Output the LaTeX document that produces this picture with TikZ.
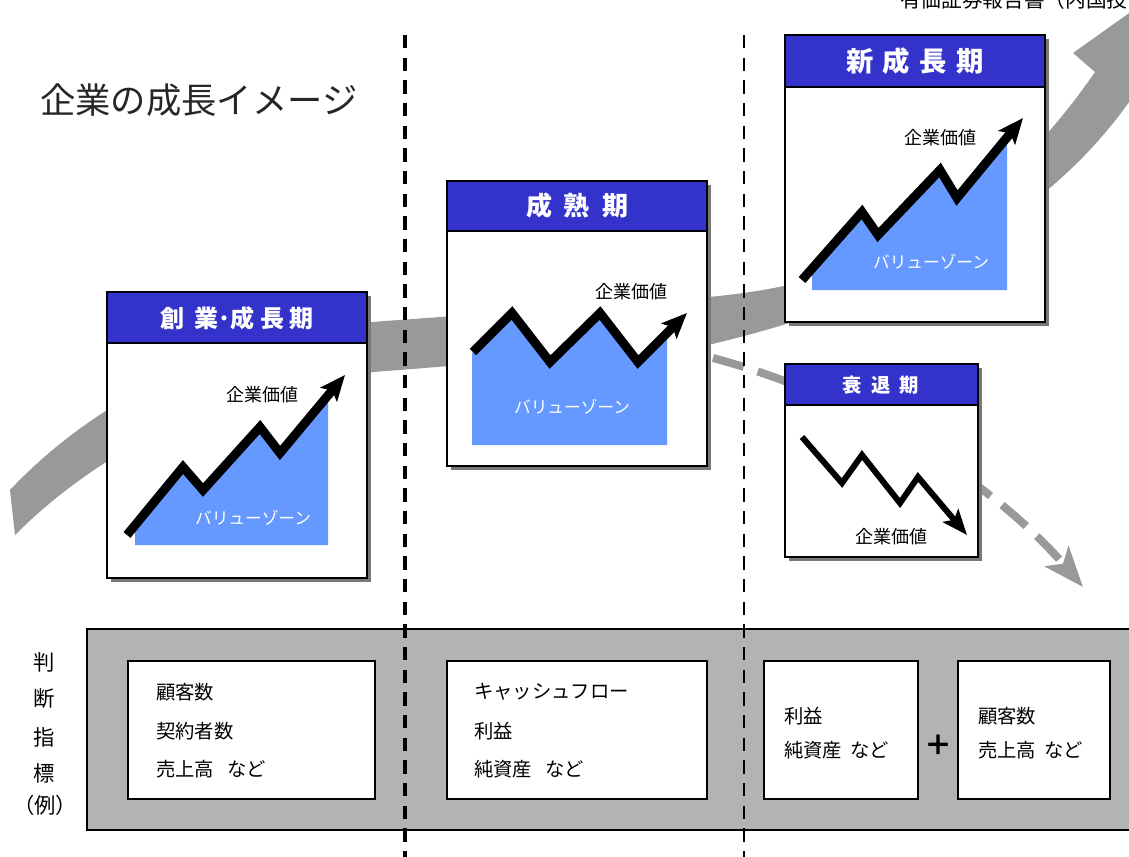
\documentclass[tikz,border=0pt]{standalone}
\usepackage{fontspec}
\usepackage{tikz}
\usetikzlibrary{arrows.meta}
\setmainfont{Noto Sans CJK JP}

\definecolor{headblue}{RGB}{51,51,204}
\definecolor{zoneblue}{RGB}{102,153,255}
\definecolor{bandgray}{RGB}{153,153,153}
\definecolor{panelgray}{RGB}{179,179,179}
\definecolor{shadegray}{RGB}{120,120,120}

\tikzset{
  stagebox/.style={draw=black,line width=1.3pt,fill=white},
  stagehead/.style={draw=black,line width=1.3pt,fill=headblue},
  stageshade/.style={fill=shadegray},
  headtext/.style={text=white,inner sep=0.75pt},
  valueline/.style={line width=6.75pt,-{Stealth[length=19pt,width=16pt,inset=4pt]}},
  zonefill/.style={fill=zoneblue},
  valuetext/.style={font=\fontsize{13.5}{15}\selectfont,inner sep=0.75pt},
  zonetext/.style={text=white,font=\fontsize{12.5}{14}\selectfont,inner sep=0.75pt},
  panelbox/.style={draw=black,line width=1pt,fill=white},
  paneltext/.style={font=\fontsize{14.5}{16}\selectfont,anchor=west,inner sep=0.75pt},
  sidetext/.style={font=\fontsize{16}{18}\selectfont,inner sep=0.75pt}
}

\begin{document}
\begin{tikzpicture}[x=0.75pt,y=0.75pt,yscale=-1,xscale=1]
    \useasboundingbox (0,0) rectangle (1129,857);
    %Shape: Growth band [id:band]
    \fill [bandgray] (10,490) .. controls (90,405) and (220,330) .. (400,320) -- (708,297) .. controls (880,282) and (1000,210) .. (1095,72) -- (1073,53) -- (1163,-11) -- (1158,109) -- (1136,92) .. controls (1050,220) and (900,300) .. (708,345) -- (400,370) .. controls (230,380) and (100,450) .. (15,535) -- cycle ;
    %Curve Lines [id:decline]
    \draw [bandgray, line width=6pt, dash pattern=on 24pt off 11pt, -{Stealth[length=30pt,width=23pt,inset=7pt]}] (713,358) .. controls (870,400) and (1000,490) .. (1083,587) ;

    % Text Node
    \node [anchor=base west, inner sep=0pt, font=\fontsize{15.5}{17}\selectfont] (source) at (900,7) {有価証券報告書（内国投};
    % Text Node
    \node [anchor=west, inner sep=0pt, text=black!85, font=\fontsize{26.5}{28}\selectfont] (title) at (40,100) {企業の成長イメージ};

    %Shape: Rectangle [id:shadeA]
    \fill [stageshade] (111,296) rectangle (371,582) ;
    \draw [stagebox] (107,292) rectangle (367,578) ;
    \draw [stagehead] (107,292) rectangle (367,343) ;
    \fill [zonefill] (135,545) -- (135,525) -- (183,467) -- (203,490) -- (260,427) -- (280,453) -- (328,395) -- (328,545) -- cycle ;
    \draw [valueline] (127,535) -- (183,467) -- (203,490) -- (260,427) -- (280,453) -- (345,375) ;
    % Text Node
    \node [headtext, font=\bfseries\fontsize{18}{20}\selectfont] (headA) at (237,318) {創\hspace{8pt}業･成\hspace{4pt}長\hspace{4pt}期};
    \node [valuetext] (valA) at (262,395) {企業価値};
    \node [zonetext] (zoneA) at (253,518) {バリューゾーン};

    %Shape: Rectangle [id:shadeB]
    \fill [stageshade] (451,185) rectangle (711,470) ;
    \draw [stagebox] (447,181) rectangle (707,466) ;
    \draw [stagehead] (447,181) rectangle (707,231) ;
    \fill [zonefill] (472,445) -- (472,353) -- (512,313) -- (550,362) -- (600,313) -- (638,362) -- (667,333) -- (667,445) -- cycle ;
    \draw [valueline] (473,352) -- (512,313) -- (550,362) -- (600,313) -- (638,362) -- (687,313) ;
    % Text Node
    \node [headtext, font=\bfseries\fontsize{19.5}{21}\selectfont] (headB) at (577,206) {成\hspace{9pt}熟\hspace{9pt}期};
    \node [valuetext] (valB) at (631,292) {企業価値};
    \node [zonetext] (zoneB) at (572,407) {バリューゾーン};

    %Shape: Rectangle [id:shadeC]
    \fill [stageshade] (789,39) rectangle (1049,326) ;
    \draw [stagebox] (785,35) rectangle (1045,322) ;
    \draw [stagehead] (785,35) rectangle (1045,87) ;
    \fill [zonefill] (812,290) -- (812,269) -- (862,212) -- (878,235) -- (940,170) -- (957,198) -- (1007,137) -- (1007,290) -- cycle ;
    \draw [valueline] (802,280) -- (862,212) -- (878,235) -- (940,170) -- (957,198) -- (1023,118) ;
    % Text Node
    \node [headtext, font=\bfseries\fontsize{20.5}{22}\selectfont] (headC) at (915,61) {新\hspace{7pt}成\hspace{7pt}長\hspace{7pt}期};
    \node [valuetext] (valC) at (940,138) {企業価値};
    \node [zonetext] (zoneC) at (931,262) {バリューゾーン};

    %Shape: Rectangle [id:shadeD]
    \fill [stageshade] (789,368) rectangle (982,561) ;
    \draw [stagebox] (785,364) rectangle (978,557) ;
    \draw [stagehead] (785,364) rectangle (978,405) ;
    \draw [line width=4.5pt, -{Stealth[length=19pt,width=15pt,inset=4pt]}] (802,437) -- (842,483) -- (862,455) -- (900,503) -- (918,477) -- (967,535) ;
    % Text Node
    \node [headtext, font=\bfseries\fontsize{14.5}{16}\selectfont] (headD) at (881,385) {衰\hspace{7pt}退\hspace{7pt}期};
    \node [valuetext] (valD) at (891,537) {企業価値};

    %Shape: Rectangle [id:panel]
    \draw [line width=1pt, fill=panelgray] (87,629) rectangle (1140,830) ;
    \draw [panelbox] (128,661) rectangle (375,799) ;
    \draw [panelbox] (447,661) rectangle (707,799) ;
    \draw [panelbox] (764,661) rectangle (918,799) ;
    \draw [panelbox] (958,661) rectangle (1110,799) ;
    % Text Node
    \node [sidetext] (sideA) at (44,662) {判};
    \node [sidetext] (sideB) at (44,699) {断};
    \node [sidetext] (sideC) at (44,737) {指};
    \node [sidetext] (sideD) at (44,773) {標};
    \node [sidetext] (sideE) at (45,805) {（例）};
    % Text Node
    \node [paneltext] (kpiA1) at (155,692) {顧客数};
    \node [paneltext] (kpiA2) at (155,731) {契約者数};
    \node [paneltext] (kpiA3) at (155,769) {売上高\hspace{10pt}など};
    \node [paneltext] (kpiB1) at (473,692) {キャッシュフロー};
    \node [paneltext] (kpiB2) at (473,731) {利益};
    \node [paneltext] (kpiB3) at (473,769) {純資産\hspace{10pt}など};
    \node [paneltext] (kpiC1) at (783,716) {利益};
    \node [paneltext] (kpiC2) at (783,750) {純資産\hspace{6pt}など};
    \node [paneltext] (kpiD1) at (977,716) {顧客数};
    \node [paneltext] (kpiD2) at (977,750) {売上高\hspace{6pt}など};
    \node [inner sep=0pt, font=\bfseries\fontsize{21}{23}\selectfont] (plus) at (938,745) {＋};

    %Straight Lines [id:phaseAB]
    \draw [line width=2.4pt, dash pattern=on 10pt off 7pt] (405,35) -- (405,857) ;
    %Straight Lines [id:phaseBC]
    \draw [line width=1.1pt, dash pattern=on 10pt off 7pt] (744,35) -- (744,857) ;
\end{tikzpicture}
\end{document}
